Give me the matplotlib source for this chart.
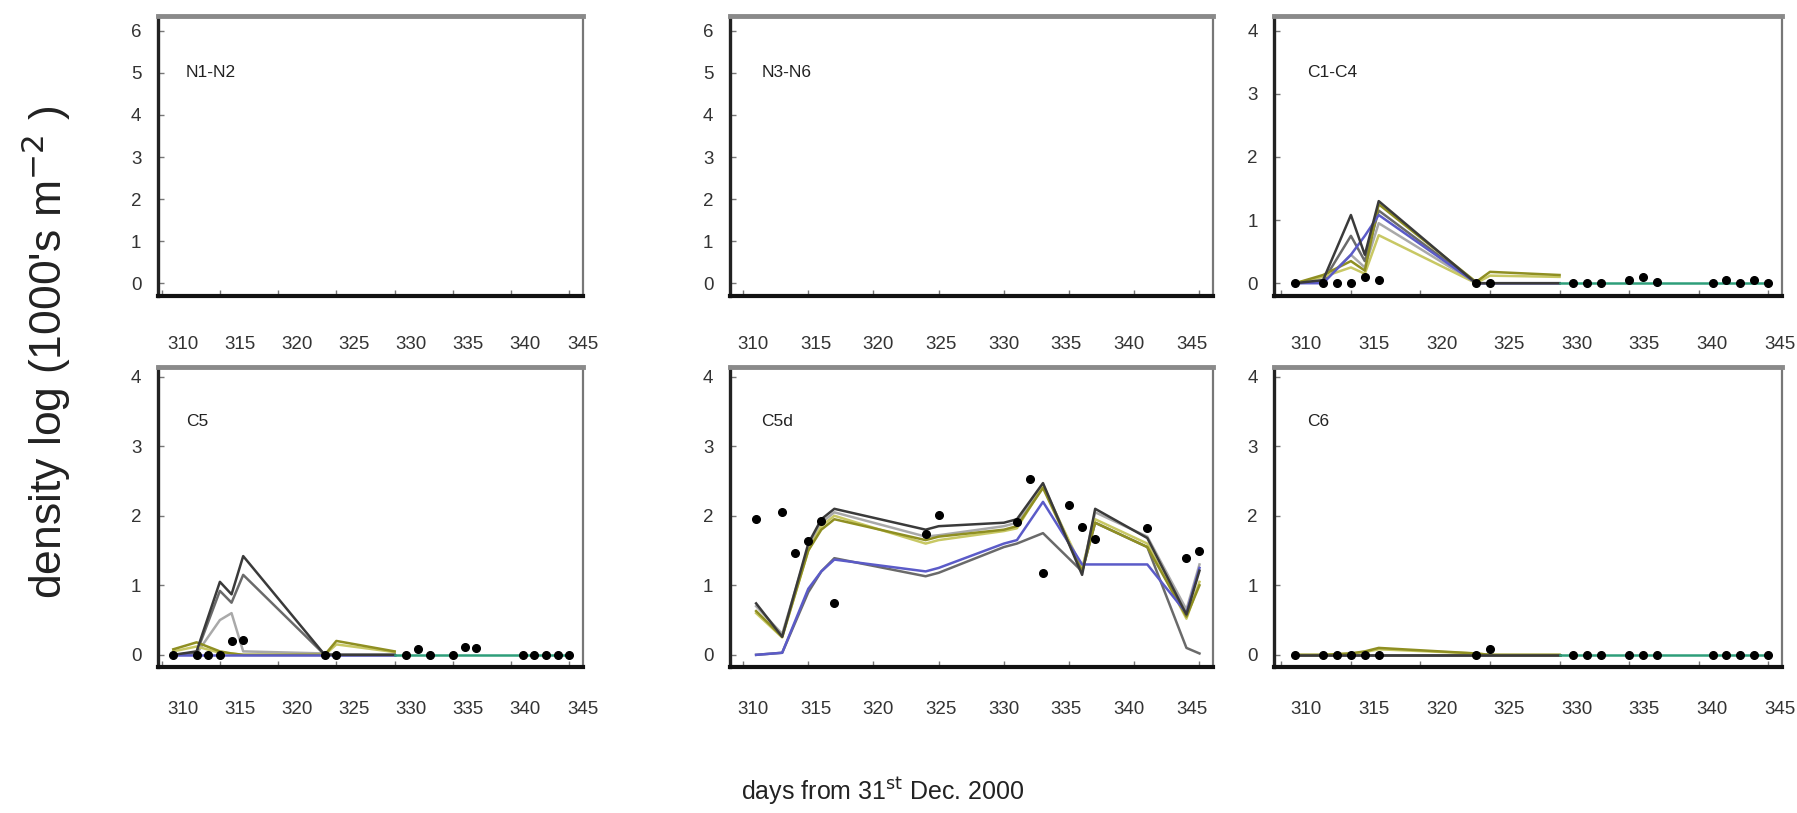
import numpy as np
import matplotlib
matplotlib.use("Agg")
import matplotlib.pyplot as plt

plt.rcParams['font.family'] = ['Liberation Sans', 'DejaVu Sans']

nan = np.nan

# ---------------- data ----------------
panel_names = ["N1-N2", "N3-N6", "C1-C4", "C5", "C5d", "C6"]
x_ticks = [310, 315, 320, 325, 330, 335, 340, 345]

model_days = [311, 313, 315, 316, 317, 324, 325, 330, 331, 333, 336, 337, 341, 344, 345]
obs_days = [311, 313, 314, 315, 316, 317, 324, 325, 331, 332, 333, 335, 336, 337,
            341, 342, 343, 344, 345]

# C1-C4
c14_dark = [0, 0.05, 1.08, 0.45, 1.30, 0, 0, 0, nan, nan, nan, nan, nan, nan, nan]
c14_mid = [0, 0.03, 0.75, 0.35, 1.15, 0, 0, 0, nan, nan, nan, nan, nan, nan, nan]
c14_light = [0, 0.02, 0.45, 0.25, 0.95, 0, 0, 0, nan, nan, nan, nan, nan, nan, nan]
c14_olive = [0, 0.13, 0.35, 0.20, 1.25, 0.02, 0.18, 0.13, nan, nan, nan, nan, nan, nan, nan]
c14_yellow = [0, 0.10, 0.25, 0.15, 0.76, 0, 0.12, 0.10, nan, nan, nan, nan, nan, nan, nan]
c14_blue = [0, 0, 0.45, 0.75, 1.08, 0, 0, 0, nan, nan, nan, nan, nan, nan, nan]
c14_teal = [nan, nan, nan, nan, nan, nan, nan, 0, 0, 0, 0, 0, 0, 0, 0]
c14_obs = [0, 0, 0, 0, 0.10, 0.05, 0, 0, 0, 0, 0, 0.05, 0.10, 0.02, 0, 0.05, 0, 0.05, 0]

# C5
c5_dark = [0, 0.05, 1.05, 0.87, 1.42, 0, 0, 0, nan, nan, nan, nan, nan, nan, nan]
c5_mid = [0, 0.03, 0.92, 0.75, 1.15, 0, 0, 0, nan, nan, nan, nan, nan, nan, nan]
c5_light = [0, 0.02, 0.50, 0.60, 0.05, 0.02, 0, 0, nan, nan, nan, nan, nan, nan, nan]
c5_olive = [0.08, 0.18, 0.05, 0.02, 0, 0, 0.20, 0.05, nan, nan, nan, nan, nan, nan, nan]
c5_yellow = [0.05, 0.12, 0.03, 0.02, 0, 0, 0.15, 0.04, nan, nan, nan, nan, nan, nan, nan]
c5_blue = [0, 0, 0, 0, 0, 0, 0, 0, nan, nan, nan, nan, nan, nan, nan]
c5_teal = [nan, nan, nan, nan, nan, nan, nan, 0, 0, 0, 0, 0, 0, 0, 0]
c5_obs = [0, 0, 0, 0, 0.20, 0.22, 0, 0, 0, 0.08, 0, 0, 0.12, 0.10, 0, 0, 0, 0, 0]

# C5d
c5d_dark = [0.74, 0.26, 1.60, 1.95, 2.10, 1.80, 1.85, 1.90, 1.95, 2.47, 1.15, 2.10, 1.68, 0.58, 1.21]
c5d_mid = [0.00, 0.03, 0.90, 1.20, 1.39, 1.13, 1.18, 1.55, 1.60, 1.75, 1.20, 1.90, 1.55, 0.10, 0.02]
c5d_light = [0.70, 0.30, 1.55, 1.90, 2.05, 1.70, 1.72, 1.85, 1.90, 2.45, 1.20, 2.05, 1.70, 0.65, 1.30]
c5d_olive = [0.63, 0.26, 1.50, 1.80, 1.95, 1.65, 1.70, 1.80, 1.85, 2.40, 1.20, 1.90, 1.55, 0.55, 1.00]
c5d_yellow = [0.60, 0.25, 1.50, 1.85, 2.00, 1.60, 1.65, 1.78, 1.82, 2.42, 1.25, 1.95, 1.60, 0.52, 1.05]
c5d_blue = [0.00, 0.03, 0.95, 1.20, 1.37, 1.20, 1.25, 1.60, 1.65, 2.20, 1.30, 1.30, 1.30, 0.60, 1.25]
c5d_teal = [nan] * 15
c5d_obs = [1.96, 2.05, 1.47, 1.63, 1.92, 0.74, 1.74, 2.01, 1.91, 2.53, 1.17, 2.16, 1.84, 1.66,
           1.82, nan, nan, 1.39, 1.50]

# C6
c6_dark = [0, 0, 0, 0, 0, 0, 0, 0, nan, nan, nan, nan, nan, nan, nan]
c6_mid = [0, 0, 0, 0, 0, 0, 0, 0, nan, nan, nan, nan, nan, nan, nan]
c6_light = [0, 0, 0, 0, 0, 0, 0, 0, nan, nan, nan, nan, nan, nan, nan]
c6_olive = [0, 0, 0.02, 0.05, 0.10, 0.02, 0, 0, nan, nan, nan, nan, nan, nan, nan]
c6_yellow = [0, 0, 0.02, 0.04, 0.08, 0.02, 0, 0, nan, nan, nan, nan, nan, nan, nan]
c6_blue = [nan] * 15
c6_teal = [nan, nan, nan, nan, nan, nan, nan, 0, 0, 0, 0, 0, 0, 0, 0]
c6_obs = [0, 0, 0, 0, 0, 0, 0, 0.08, 0, 0, 0, 0, 0, 0, 0, 0, 0, 0, 0]

# ---------------- styling ----------------
colors = {
    "light": "#a9a9a9",
    "mid": "#6a6a6a",
    "yellow": "#c8c864",
    "olive": "#8f8f22",
    "blue": "#5b5bc8",
    "dark": "#3a3a3a",
    "teal": "#2e9e7a",
}

panel_series = {
    "C1-C4": dict(light=c14_light, mid=c14_mid, yellow=c14_yellow, olive=c14_olive,
                  blue=c14_blue, dark=c14_dark, teal=c14_teal, obs=c14_obs),
    "C5": dict(light=c5_light, mid=c5_mid, yellow=c5_yellow, olive=c5_olive,
               blue=c5_blue, dark=c5_dark, teal=c5_teal, obs=c5_obs),
    "C5d": dict(light=c5d_light, mid=c5d_mid, yellow=c5d_yellow, olive=c5d_olive,
                blue=c5d_blue, dark=c5d_dark, teal=c5d_teal, obs=c5d_obs),
    "C6": dict(light=c6_light, mid=c6_mid, yellow=c6_yellow, olive=c6_olive,
               blue=c6_blue, dark=c6_dark, teal=c6_teal, obs=c6_obs),
}

W, H = 1568.0, 709.0
col_lr = [(138, 509), (637, 1058), (1112, 1555)]
row_tb = [(14, 258), (320, 582)]
col_xlim = [(309.7, 346.2), (309.0, 346.0), (309.5, 346.0)]
# where the printed day labels 310 and 345 sit along each column's frame (fraction)
label_span = [(0.059, 0.998), (0.0475, 0.957), (0.063, 0.995)]
row_pad = [29, 24]
name_y = [0.80, 0.82]
ylims = {"N1-N2": (-0.3, 6.35), "N3-N6": (-0.3, 6.35), "C1-C4": (-0.2, 4.23),
         "C5": (-0.18, 4.14), "C5d": (-0.18, 4.14), "C6": (-0.18, 4.14)}
yticks = {"N1-N2": range(0, 7), "N3-N6": range(0, 7), "C1-C4": range(0, 5),
          "C5": range(0, 5), "C5d": range(0, 5), "C6": range(0, 5)}

fig = plt.figure(figsize=(17.97, 8.13), dpi=100)

for i, name in enumerate(panel_names):
    r, c = divmod(i, 3)
    l, rr = col_lr[c]
    t, b = row_tb[r]
    X0, X1 = col_xlim[c]
    ax = fig.add_axes([l / W, 1 - b / H, (rr - l) / W, (b - t) / H])
    ax.set_xlim(X0, X1)
    ax.set_ylim(*ylims[name])
    ax.set_xticks(x_ticks)
    ax.set_xticklabels([])
    ax.set_yticks(list(yticks[name]))
    ax.tick_params(axis="x", direction="in", length=4, width=1, color="#777777")
    ax.tick_params(axis="y", direction="in", length=4, width=1, color="#777777",
                   pad=12, labelsize=13.5, labelcolor="#333333")
    ax.spines["left"].set_linewidth(2.4)
    ax.spines["left"].set_color("#222222")
    ax.spines["bottom"].set_linewidth(3.0)
    ax.spines["bottom"].set_color("#111111")
    ax.spines["top"].set_linewidth(3.5)
    ax.spines["top"].set_color("#8a8a8a")
    ax.spines["right"].set_linewidth(1.6)
    ax.spines["right"].set_color("#777777")
    ax.text(0.065, name_y[r], name, transform=ax.transAxes, fontsize=12.5,
            color="#222222", ha="left", va="center")

    # printed day labels (slightly offset from the tick marks, as in the original)
    f0, f1 = label_span[c]
    p310 = X0 + f0 * (X1 - X0)
    p345 = X0 + f1 * (X1 - X0)
    k = (p345 - p310) / 35.0
    sec = ax.secondary_xaxis(
        "bottom",
        functions=(lambda x, p=p310, k=k: 310 + (np.asarray(x) - p) / k,
                   lambda v, p=p310, k=k: p + (np.asarray(v) - 310) * k))
    sec.set_xticks(x_ticks)
    sec.tick_params(length=0, pad=row_pad[r], labelsize=13.5, labelcolor="#333333")
    sec.spines["bottom"].set_visible(False)

    if name in panel_series:
        s = panel_series[name]
        for key in ["light", "mid", "yellow", "olive", "blue", "dark", "teal"]:
            ax.plot(model_days, s[key], color=colors[key], lw=1.8, zorder=2)
        ax.plot(obs_days, s["obs"], linestyle="none", marker="o", ms=5.5,
                color="black", zorder=3)

fig.text(0.0255, 0.567, "density log (1000's m$^{-2}$ )", rotation=90,
         ha="center", va="center", fontsize=32, color="#222222")
fig.text(0.491, 0.027, r"days from 31$^{\mathrm{st}}$ Dec. 2000", ha="center",
         va="center", fontsize=18, color="#222222")

fig.savefig("out.png", dpi=100)
